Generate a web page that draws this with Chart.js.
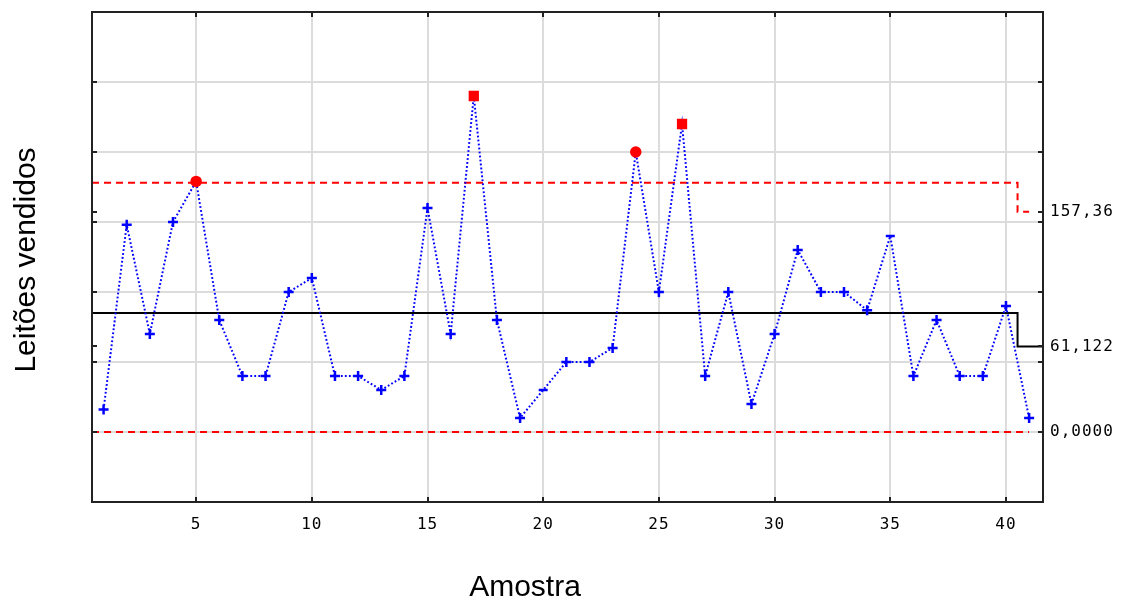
<!DOCTYPE html>
<html>
<head>
<meta charset="utf-8">
<script src="https://cdn.jsdelivr.net/npm/chart.js@4.4.1/dist/chart.umd.min.js"></script>
<style>
  html, body { margin: 0; padding: 0; background: #fff; }
  #wrap { width: 1126px; height: 602px; }
</style>
</head>
<body>
<div id="wrap"><canvas id="chart" width="1126" height="602"></canvas></div>
<script>
// valores
const samples = [1, 2, 3, 4, 5, 6, 7, 8, 9, 10, 11, 12, 13, 14, 15, 16, 17, 18, 19, 20,
                 21, 22, 23, 24, 25, 26, 27, 28, 29, 30, 31, 32, 33, 34, 35, 36, 37, 38, 39, 40, 41];
const sales = [16, 148, 70, 150, 179, 80, 40, 40, 100, 110, 40, 40, 30, 40, 160, 70, 240, 80, 10, 30,
               50, 50, 60, 200, 100, 220, 40, 100, 20, 70, 130, 100, 100, 87, 140, 40, 80, 40, 40, 90, 10];
const outOfControl = [5, 17, 24, 26];
const roundMarks = [5, 24];
const dashMarks = [20, 35];

// limites por fase (amostras 1-40, amostra 41)
const phaseEnd = 40;
const uclByPhase = [178, 157.36];
const clByPhase = [85, 61.122];
const lclByPhase = [0, 0];

const xTicks = [5, 10, 15, 20, 25, 30, 35, 40];
const yTicks = [-50, 0, 50, 100, 150, 200, 250, 300];
const limitLabels = [0, 61.122, 157.36];
const limitLabelText = ['0,0000', '61,122', '157,36'];

const X_MIN = 0.5, X_MAX = 41.6;
const Y_MIN = -50, Y_MAX = 300;

const phaseOf = s => (s <= phaseEnd ? 0 : 1);
const limitSeries = (arr, extendRight) => {
    const pts = [{ x: X_MIN, y: arr[0] }];
    samples.forEach(s => pts.push({ x: s, y: arr[phaseOf(s)] }));
    if (extendRight) pts.push({ x: X_MAX, y: arr[1] });
    return pts;
};

const pointStyles = samples.map(s => {
    if (outOfControl.includes(s)) return roundMarks.includes(s) ? 'circle' : 'rect';
    if (dashMarks.includes(s)) return 'line';
    return 'cross';
});
const pointColors = samples.map(s => outOfControl.includes(s) ? '#ff0000' : '#0000ff');
const pointRadii = samples.map(s => {
    if (outOfControl.includes(s)) return roundMarks.includes(s) ? 4.5 : 5.5;
    if (dashMarks.includes(s)) return 4.5;
    return 5;
});

const GRID = '#dcdcdc';
const AXIS = '#222222';

const noPad = s => { s.paddingTop = 0; s.paddingBottom = 0; };

const framePlugin = {
    id: 'frame',
    beforeDraw(chart) {
        chart.ctx.letterSpacing = '1px';
    },
    afterDatasetsDraw(chart) {
        const { ctx, chartArea: a, scales } = chart;
        ctx.save();
        ctx.letterSpacing = '0px';
        ctx.strokeStyle = AXIS;
        ctx.lineWidth = 2;
        ctx.strokeRect(a.left, a.top, a.right - a.left, a.bottom - a.top);
        ctx.beginPath();
        xTicks.forEach(v => {
            const x = Math.round(scales.x.getPixelForValue(v));
            ctx.moveTo(x, a.top); ctx.lineTo(x, a.top + 5);
            ctx.moveTo(x, a.bottom); ctx.lineTo(x, a.bottom - 5);
        });
        yTicks.concat(limitLabels).forEach(v => {
            const y = Math.round(scales.y.getPixelForValue(v));
            ctx.moveTo(a.left, y); ctx.lineTo(a.left + 5, y);
            ctx.moveTo(a.right, y); ctx.lineTo(a.right - 5, y);
        });
        ctx.stroke();
        ctx.restore();
    },
    afterDraw(chart) {
        const { ctx } = chart;
        ctx.save();
        ctx.letterSpacing = '0px';
        ctx.fillStyle = '#000';
        ctx.font = '30px "Liberation Sans", Arial, sans-serif';
        ctx.textAlign = 'center';
        ctx.textBaseline = 'alphabetic';
        ctx.fillText('Amostra', 525, 596);
        ctx.translate(35, 260);
        ctx.rotate(-Math.PI / 2);
        ctx.fillText('Leitões vendidos', 0, 0);
        ctx.restore();
    }
};

new Chart(document.getElementById('chart'), {
    type: 'line',
    data: {
        datasets: [
            {
                data: samples.map((s, i) => ({ x: s, y: sales[i] })),
                borderColor: '#0000ff',
                borderWidth: 2,
                borderDash: [1.8, 2.2],
                pointStyle: pointStyles,
                pointRadius: pointRadii,
                pointBorderColor: pointColors,
                pointBackgroundColor: pointColors,
                pointBorderWidth: 2.5,
                tension: 0
            },
            {
                data: limitSeries(uclByPhase, false),
                borderColor: '#ff0000',
                borderWidth: 2,
                borderDash: [7, 5],
                stepped: 'middle',
                pointRadius: 0
            },
            {
                data: limitSeries(clByPhase, true),
                borderColor: '#000000',
                borderWidth: 2,
                stepped: 'middle',
                pointRadius: 0
            },
            {
                data: limitSeries(lclByPhase, false),
                borderColor: '#ff0000',
                borderWidth: 2,
                borderDash: [7, 5],
                stepped: 'middle',
                pointRadius: 0
            }
        ]
    },
    options: {
        responsive: false,
        animation: false,
        layout: { padding: { top: 12, left: 0, right: 0, bottom: 0 }, autoPadding: false },
        plugins: { legend: { display: false }, tooltip: { enabled: false } },
        scales: {
            x: {
                type: 'linear',
                min: X_MIN,
                max: X_MAX,
                afterBuildTicks: s => { s.ticks = xTicks.map(v => ({ value: v })); },
                afterFit: s => { s.height = 100; s.paddingLeft = 0; s.paddingRight = 0; },
                grid: { color: GRID, lineWidth: 2, drawTicks: false },
                border: { display: false },
                ticks: {
                    color: '#000',
                    padding: 13,
                    maxRotation: 0,
                    font: { family: '"DejaVu Sans Mono", monospace', size: 16 }
                }
            },
            y: {
                type: 'linear',
                min: Y_MIN,
                max: Y_MAX,
                afterBuildTicks: s => { s.ticks = yTicks.map(v => ({ value: v })); },
                afterFit: s => { s.width = 92; noPad(s); },
                grid: { color: GRID, lineWidth: 2, drawTicks: false },
                border: { display: false },
                ticks: { display: false }
            },
            y2: {
                type: 'linear',
                position: 'right',
                min: Y_MIN,
                max: Y_MAX,
                afterBuildTicks: s => { s.ticks = limitLabels.map(v => ({ value: v })); },
                afterFit: s => { s.width = 83; noPad(s); },
                grid: { drawOnChartArea: false, drawTicks: false },
                border: { display: false },
                ticks: {
                    color: '#000',
                    padding: 7,
                    font: { family: '"DejaVu Sans Mono", monospace', size: 16 },
                    callback: v => limitLabelText[limitLabels.indexOf(v)]
                }
            }
        }
    },
    plugins: [framePlugin]
});
</script>
</body>
</html>
